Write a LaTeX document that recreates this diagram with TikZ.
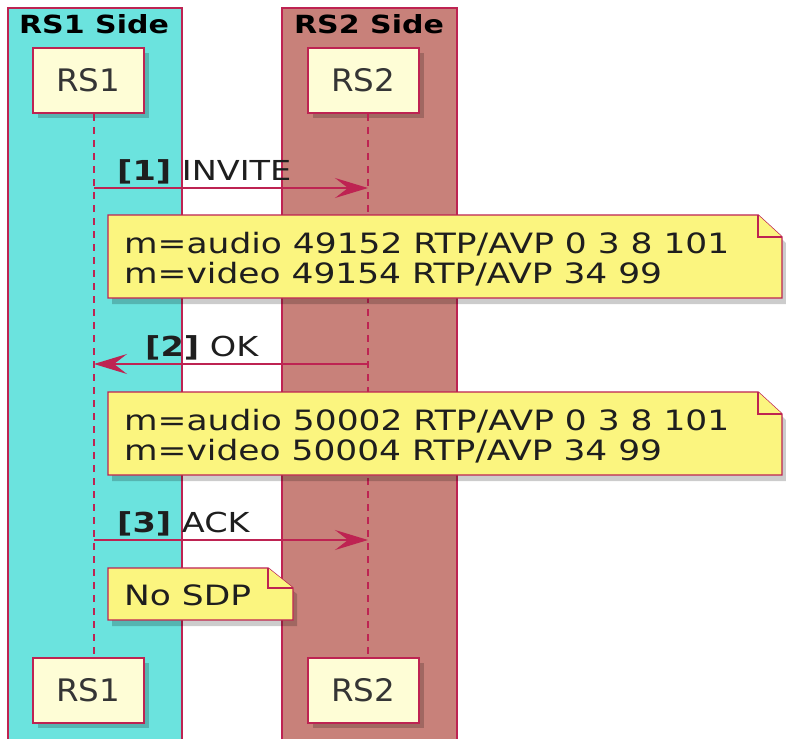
\documentclass[tikz,border=0pt]{standalone}
\usepackage{fontspec}
\setmainfont{DejaVu Sans}
\usepackage{graphicx}
\usetikzlibrary{arrows.meta,shadows}
\definecolor{bord}{HTML}{BE2352}
\definecolor{sideA}{HTML}{6BE3DE}
\definecolor{sideB}{HTML}{C8817A}
\definecolor{partfill}{HTML}{FEFDD6}
\definecolor{notefill}{HTML}{FBF57F}
\definecolor{txt}{HTML}{1E1E1E}
\newcommand{\hstr}[2]{\scalebox{#1}[1]{#2}}
\tikzset{
  sidebox/.style={draw=bord,line width=1.5pt},
  partbox/.style={draw=bord,line width=2pt,fill=partfill,minimum width=111pt,minimum height=65pt,inner sep=0pt,
    font=\fontsize{31}{34}\selectfont,text=txt!90,
    drop shadow={shadow xshift=5pt,shadow yshift=-5pt,fill=black,opacity=0.2}},
  lifeline/.style={draw=bord,line width=1.3pt,dash pattern=on 7pt off 6pt},
  msg/.style={draw=bord,line width=1.3pt,-{Stealth[length=33pt,width=20pt,inset=13pt]}},
  msglabel/.style={anchor=base west,inner sep=0pt,text=txt,font=\fontsize{27.5}{31}\selectfont},
  notebox/.style={draw=bord,line width=1.4pt,fill=notefill,
    drop shadow={shadow xshift=4pt,shadow yshift=-6pt,fill=black,opacity=0.2}},
  notetext/.style={anchor=base west,inner sep=0pt,text=txt,font=\fontsize{28}{30}\selectfont},
  sidetitle/.style={anchor=base,inner sep=0pt,text=black,font=\bfseries\fontsize{25}{28}\selectfont}
}
\begin{document}
\begin{tikzpicture}[x=1pt,y=-1pt]
\useasboundingbox (0,0) rectangle (786,738);
\clip (0,0) rectangle (786,738);
\fill[white] (0,0) rectangle (786,738);
% side boxes
\draw[sidebox,fill=sideA] (8,8) rectangle (182,760);
\draw[sidebox,fill=sideB] (282,8) rectangle (457,760);
\node[sidetitle] (t1) at (94,34) {\hstr{1.2}{RS1 Side}};
\node[sidetitle] (t2) at (369,34) {\hstr{1.2}{RS2 Side}};
% participants
\node[partbox] (p1t) at (88,80.5) {\hstr{1.05}{RS1}};
\node[partbox] (p2t) at (363,80.5) {\hstr{1.05}{RS2}};
\node[partbox] (p1b) at (88,690) {\hstr{1.05}{RS1}};
\node[partbox] (p2b) at (363,690) {\hstr{1.05}{RS2}};
% lifelines
\draw[lifeline] ([xshift=6pt]p1t.south) -- ([xshift=6pt]p1b.north);
\draw[lifeline] ([xshift=5pt]p2t.south) -- ([xshift=5pt]p2b.north);
% coordinates on lifelines
\coordinate (a1s) at (94,188);  \coordinate (a1e) at (368,188);
\coordinate (a2s) at (368,364); \coordinate (a2e) at (94,364);
\coordinate (a3s) at (94,540);  \coordinate (a3e) at (368,540);
% messages
\draw[msg] (a1s) -- (a1e);
\node[msglabel] (m1) at (117,180) {\hstr{1.22}{\textbf{[1]} INVITE}};
\draw[msg] (a2s) -- (a2e);
\node[msglabel] (m2) at (145,356) {\hstr{1.22}{\textbf{[2]} OK}};
\draw[msg] (a3s) -- (a3e);
\node[msglabel] (m3) at (117,532) {\hstr{1.22}{\textbf{[3]} ACK}};
% notes
\draw[notebox] (108,215) -- (758,215) -- (782,237) -- (782,298) -- (108,298) -- cycle;
\draw[bord,line width=1.2pt,fill=notefill] (758,215) -- (758,237) -- (782,237);
\node[notetext] (n1) at (124,253) {\hstr{1.23}{\begin{tabular}[t]{@{}l@{}}m=audio 49152 RTP/AVP 0 3 8 101\\m=video 49154 RTP/AVP 34 99\end{tabular}}};
\draw[notebox] (108,392) -- (758,392) -- (782,414) -- (782,475) -- (108,475) -- cycle;
\draw[bord,line width=1.2pt,fill=notefill] (758,392) -- (758,414) -- (782,414);
\node[notetext] (n2) at (124,430) {\hstr{1.23}{\begin{tabular}[t]{@{}l@{}}m=audio 50002 RTP/AVP 0 3 8 101\\m=video 50004 RTP/AVP 34 99\end{tabular}}};
\draw[notebox] (108,568) -- (268,568) -- (293,588) -- (293,620) -- (108,620) -- cycle;
\draw[bord,line width=1.2pt,fill=notefill] (268,568) -- (268,588) -- (293,588);
\node[notetext] (n3) at (124,605) {\hstr{1.23}{No SDP}};
\end{tikzpicture}
\end{document}
